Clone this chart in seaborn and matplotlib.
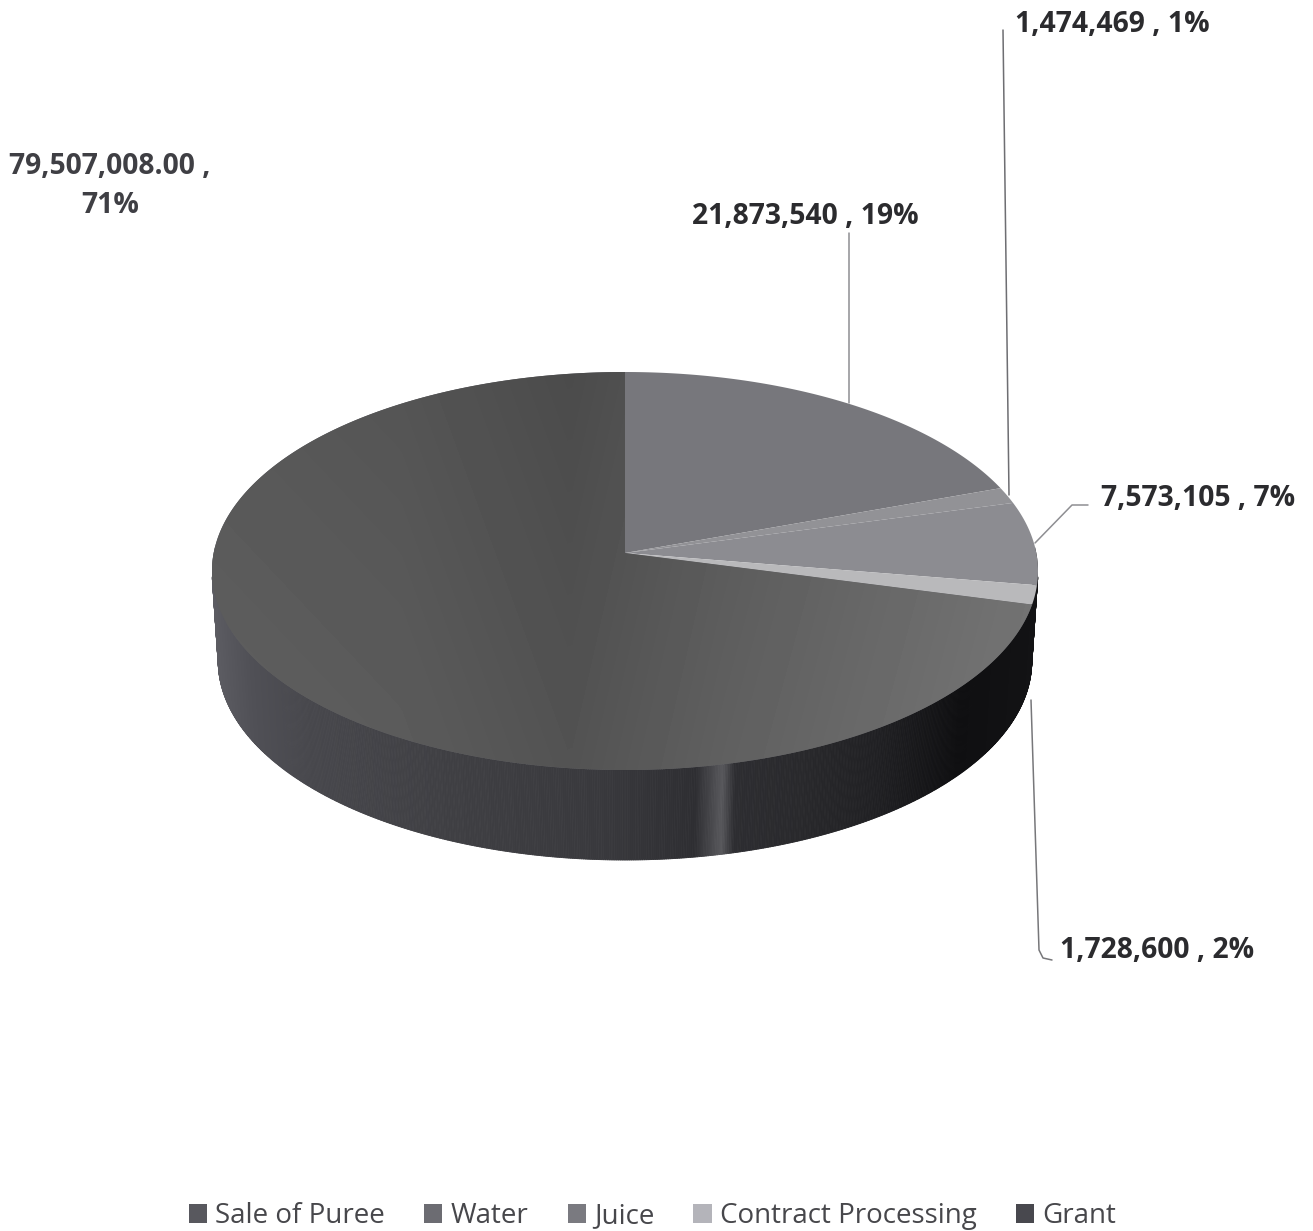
import numpy as np
import matplotlib
matplotlib.use("Agg")
import matplotlib.pyplot as plt
from matplotlib.collections import PolyCollection
from matplotlib.patches import Patch, Polygon
import seaborn as sns

# Revenue by source
categories = ["Sale of Puree", "Water", "Juice", "Contract Processing", "Grant"]
values = [79507008.00, 21873540, 1474469, 7573105, 1728600]
value_labels = ["79,507,008.00 ,\n71%", "21,873,540 , 19%", "1,474,469 , 1%",
                "7,573,105 , 7%", "1,728,600 , 2%"]
slice_colors = ["#5a5a60", "#77777c", "#929296", "#8c8c91", "#b9b9bb"]
legend_colors = ["#58585e", "#6c6c72", "#7a7a80", "#b4b4ba", "#48484e"]

sns.set_theme(style="white")
plt.rcParams["font.family"] = ["Open Sans", "DejaVu Sans"]

W, H = 1313, 1231
fig = plt.figure(figsize=(W / 100, H / 100), dpi=100)
ax = fig.add_axes([0, 0, 1, 1])

# Tilted disc: a circle under a perspective projection
CX, CY, RX, RY, DEPTH = 625.0, 571.0, 413.0, 199.0, 90.0
TILT = 18.0 / RY


def project(theta):
    u, v = np.cos(theta), np.sin(theta)
    den = 1 + TILT * v
    x = CX + RX * np.sqrt(1 - TILT ** 2) * u / den
    y = CY - (RY * v + RY * TILT) / den
    return x, y


APEX = (CX, CY - RY * TILT)

# Slices run clockwise from 12 o'clock, starting with Water and ending with Puree
shares = np.array(values) / np.sum(values)
order = [1, 2, 3, 4, 0]
edges = np.pi / 2 - 2 * np.pi * np.concatenate([[0], np.cumsum(shares[order])])

# Side wall, shaded strip by strip from left to right
wall_x = [212, 250, 310, 450, 600, 695, 712, 722, 735, 800, 880, 960, 1040]
wall_hex = ["#5c5c62", "#505056", "#47474c", "#3f3f43", "#39393d", "#2e2e32", "#48484c",
            "#58585c", "#2d2d31", "#29292c", "#202023", "#0f0f11", "#131315"]
wall_rgb = np.array(sns.color_palette(wall_hex, len(wall_hex)))
t = np.linspace(-0.12, -np.pi + 0.12, 700)
tx, ty = project(t)
bx = CX + (tx - CX) * 0.985
by = ty + DEPTH
strips, strip_colors = [], []
for i in range(len(t) - 1):
    strips.append([(tx[i], ty[i]), (tx[i + 1], ty[i + 1]), (bx[i + 1], by[i + 1]), (bx[i], by[i])])
    xm = 0.5 * (tx[i] + tx[i + 1])
    strip_colors.append([np.interp(xm, wall_x, wall_rgb[:, c]) for c in range(3)])
ax.add_collection(PolyCollection(strips, facecolors=strip_colors, edgecolors=strip_colors,
                                 linewidths=0.6, zorder=1))

# Left and right rounded shoulders of the wall
for a, b in [(-0.12, 0.03), (-np.pi + 0.12, -np.pi - 0.03)]:
    s = np.linspace(a, b, 40)
    sx, sy = project(s)
    ex = CX + (sx - CX) * 0.985
    ey = sy + DEPTH
    shade = wall_hex[-1] if a > -1 else wall_hex[0]
    ax.add_patch(Polygon(np.r_[np.c_[sx, sy], np.c_[ex, ey][::-1]], color=shade, zorder=0.9, lw=0))

# Top face
for k, idx in enumerate(order):
    th = np.linspace(edges[k], edges[k + 1], 300)
    px, py = project(th)
    verts = np.r_[[APEX], np.c_[px, py]]
    poly = Polygon(verts, closed=True, facecolor=slice_colors[idx], edgecolor="none", zorder=2)
    ax.add_patch(poly)
    if idx == 0:
        # The largest slice brightens towards the lower right
        gx, gy = np.meshgrid(np.linspace(200, 1050, 170), np.linspace(360, 780, 84))
        shade = np.interp(gx, [212, 400, 570, 720, 1040], [0.36, 0.345, 0.31, 0.36, 0.45])
        shade = shade + (gy - 570) / 400 * 0.03
        im = ax.imshow(shade, extent=(200, 1050, 780, 360), cmap="gray", vmin=0, vmax=1,
                       aspect="auto", zorder=2.1, interpolation="bilinear")
        im.set_clip_path(poly)

# Leader lines
line_kw = dict(color="#8e8e92", lw=1.1, zorder=3, solid_capstyle="round")
ax.plot([849, 849], [233, 403], **line_kw)
ax.plot([1003, 1009], [30, 495], color="#6e6e72", lw=1.1, zorder=3)
ax.plot([1035, 1072, 1088], [543, 505, 505], **line_kw)
ax.plot([1031, 1039, 1043, 1052], [700, 950, 958, 960], color="#77777a", lw=1.1, zorder=0.5)

# Value labels
label_kw = dict(fontweight="bold", fontsize=20.3, color="#2b2b2e", linespacing=1.48)
ax.text(110, 186, value_labels[0], ha="center", va="center", **{**label_kw, "color": "#3f3f44"})
ax.text(805, 217, value_labels[1], ha="center", va="center", **label_kw)
ax.text(1112, 25, value_labels[2], ha="center", va="center", **label_kw)
ax.text(1198, 498, value_labels[3], ha="center", va="center", **label_kw)
ax.text(1157, 951, value_labels[4], ha="center", va="center", **label_kw)

ax.set_xlim(0, W)
ax.set_ylim(H, 0)
ax.axis("off")

handles = [Patch(facecolor=c, edgecolor="none", label=n) for c, n in zip(legend_colors, categories)]
ax.legend(handles=handles, ncol=5, loc="lower center", bbox_to_anchor=(652.5 / W, -2.0 / H),
          frameon=False, fontsize=20, labelcolor="#47474b", handlelength=0.65, handleheight=0.65,
          handletextpad=0.3, columnspacing=1.41, borderaxespad=0.0, borderpad=0.1)

fig.savefig("out.png", dpi=100, facecolor="white")
